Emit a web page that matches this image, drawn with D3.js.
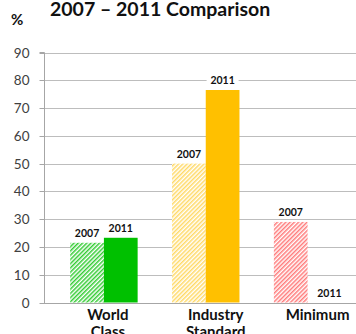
<!DOCTYPE html>
<html>
<head>
<meta charset="utf-8">
<script src="https://cdn.jsdelivr.net/npm/d3@7"></script>
<style>
  html, body { margin: 0; padding: 0; background: #fff; }
  svg { display: block; }
  text { font-family: Lato, "Open Sans", sans-serif; }
</style>
</head>
<body>
<svg id="chart" width="356" height="334"></svg>
<script>
// Chart data
const categories = ["World Class", "Industry Standard", "Minimum"];
const categoryLines = [["World", "Class"], ["Industry", "Standard"], ["Minimum"]];
const seriesNames = ["2007", "2011"];
const values2007 = [21.5, 50, 29];
const values2011 = [23.3, 76.5, 0];
const yTicks = [0, 10, 20, 30, 40, 50, 60, 70, 80, 90];
const barColors = ["#00c000", "#ffc000", "#ff5050"];
const hatchColors = ["#33cc33", "#ffd966", "#ff7a7a"];

const svg = d3.select("#chart");
const plotLeft = 44, plotRight = 356;

const y = d3.scaleLinear().domain([0, 90]).range([302.5, 52.5]);
const x0 = d3.scaleBand().domain(categories).range([53, 358.5]).padding(0);
const x1 = d3.scaleBand().domain(seriesNames).range([0, x0.bandwidth()])
  .paddingInner(0).paddingOuter(0.51);

// Hatch patterns for the 2007 bars
const defs = svg.append("defs");
categories.forEach((c, i) => {
  const p = defs.append("pattern")
    .attr("id", "hatch" + i)
    .attr("patternUnits", "userSpaceOnUse")
    .attr("width", 3).attr("height", 3)
    .attr("patternTransform", "rotate(45)");
  p.append("rect").attr("width", 3).attr("height", 3).attr("fill", "#fff");
  p.append("rect").attr("x", 0).attr("width", 1.5).attr("height", 3)
    .attr("fill", hatchColors[i]);
});

// Gridlines
svg.append("g")
  .selectAll("line")
  .data(yTicks.filter(d => d > 0))
  .join("line")
  .attr("x1", plotLeft).attr("x2", plotRight)
  .attr("y1", d => Math.round(y(d)) + 0.5).attr("y2", d => Math.round(y(d)) + 0.5)
  .attr("stroke", "#bdbdbd").attr("stroke-width", 1);

// Y axis
const yAxis = d3.axisLeft(y).tickValues(yTicks).tickSize(5).tickPadding(10);
const gy = svg.append("g")
  .attr("transform", `translate(${plotLeft + 0.5},0)`)
  .call(yAxis);
gy.select(".domain").attr("stroke", "#a6a6a6").attr("d", `M-5,${y(90)}H0V${y(0) + 1}`);
gy.selectAll(".tick line").attr("stroke", "#a6a6a6");
gy.selectAll(".tick").attr("transform", d => `translate(0,${Math.round(y(d)) + 0.5})`);
gy.selectAll(".tick text")
  .attr("fill", "#404040")
  .style("font-size", "13.5px")
  .style("font-family", "Lato, sans-serif");

// X axis baseline
svg.append("line")
  .attr("x1", plotLeft).attr("x2", plotRight)
  .attr("y1", Math.round(y(0)) + 0.5).attr("y2", Math.round(y(0)) + 0.5)
  .attr("stroke", "#a6a6a6");

// Bars
const groups = svg.append("g").selectAll("g")
  .data(categories)
  .join("g")
  .attr("transform", d => `translate(${x0(d)},0)`);

groups.each(function (c, i) {
  const g = d3.select(this);
  const rows = [
    { s: "2007", v: values2007[i], fill: `url(#hatch${i})` },
    { s: "2011", v: values2011[i], fill: barColors[i] }
  ];
  g.selectAll("rect")
    .data(rows)
    .join("rect")
    .attr("x", d => x1(d.s))
    .attr("width", x1.bandwidth())
    .attr("y", d => y(d.v))
    .attr("height", d => y(0) - y(d.v))
    .attr("fill", d => d.fill);

  // Value labels (series year above each bar)
  const lbl = g.selectAll("g.lbl")
    .data(rows)
    .join("g")
    .attr("class", "lbl")
    .attr("transform", d => `translate(${x1(d.s) + x1.bandwidth() / 2 + (d.v === 0 ? 5 : 0)},${y(d.v) - 6})`);
  lbl.append("rect")
    .attr("x", -16).attr("y", -9).attr("width", 32).attr("height", 11)
    .attr("fill", "#fff");
  lbl.append("text")
    .attr("text-anchor", "middle")
    .attr("fill", "#111")
    .style("font-size", "10.5px")
    .style("font-weight", "bold")
    .text(d => d.s);
});

// Category labels
svg.append("g").selectAll("text")
  .data(categories)
  .join("text")
  .attr("text-anchor", "middle")
  .attr("x", (d, i) => x0(d) + x0.bandwidth() / 2 + (i === 0 ? 4 : 10))
  .attr("y", 320)
  .attr("fill", "#111")
  .style("font-size", "15px")
  .style("font-weight", "bold")
  .each(function (d, i) {
    const t = d3.select(this);
    categoryLines[i].forEach((line, k) => {
      t.append("tspan")
        .attr("x", t.attr("x"))
        .attr("dy", k === 0 ? 0 : 17)
        .text(line);
    });
  });

// Title and unit
svg.append("text")
  .attr("x", 50).attr("y", 16)
  .attr("fill", "#111")
  .style("font-size", "19.5px")
  .style("font-weight", "bold")
  .text("2007 – 2011 Comparison");

svg.append("text")
  .attr("x", 11).attr("y", 25)
  .attr("fill", "#111")
  .style("font-size", "15px")
  .style("font-weight", "bold")
  .text("%");
</script>
</body>
</html>
